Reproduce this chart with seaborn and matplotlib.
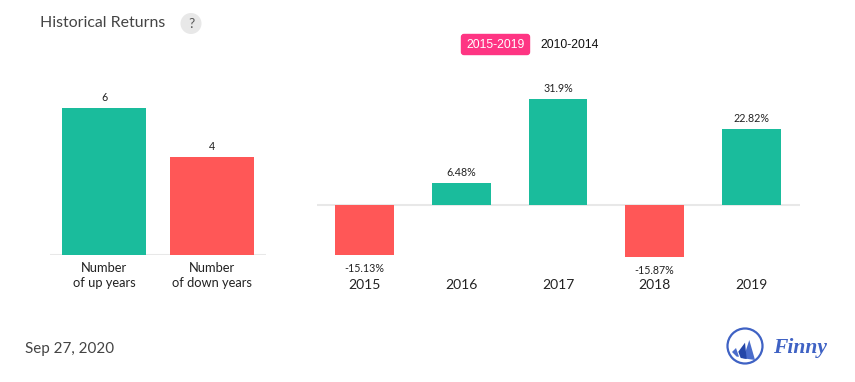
import matplotlib
matplotlib.use('Agg')
import matplotlib.pyplot as plt
from matplotlib.patches import Circle, FancyBboxPatch, Polygon
import pandas as pd
import seaborn as sns

count_labels = ['Number\nof up years', 'Number\nof down years']
count_values = [6, 4]
years = ['2015', '2016', '2017', '2018', '2019']
returns = [-15.13, 6.48, 31.9, -15.87, 22.82]
return_labels = ['-15.13%', '6.48%', '31.9%', '-15.87%', '22.82%']

GREEN = '#1abc9c'
RED = '#ff5757'
W, H = 855, 382

sns.set_theme(style='white')
plt.rcParams['font.family'] = ['Lato', 'DejaVu Sans']

fig = plt.figure(figsize=(W / 100, H / 100), dpi=100)

def make_axes(x0, x1, y_top, y_bot):
    return fig.add_axes([x0 / W, 1 - y_bot / H, (x1 - x0) / W, (y_bot - y_top) / H])

def style_axes(ax):
    sns.despine(ax=ax, left=True, bottom=True, top=True, right=True)
    ax.set_xlabel('')
    ax.set_ylabel('')
    ax.set_yticks([])
    ax.axhline(0, color='#e8e8e8', lw=1.5, zorder=0)
    ax.tick_params(axis='x', length=0, labelsize=10, labelcolor='#222222')
    ax.patch.set_alpha(0)

# left panel, up and down counts
ax1 = make_axes(50, 266, 60, 255)
df1 = pd.DataFrame({'label': count_labels, 'value': count_values})
sns.barplot(data=df1, x='label', y='value', hue='label', palette=[GREEN, RED],
            width=0.78, saturation=1, legend=False, linewidth=0, ax=ax1, zorder=2)
ax1.set_ylim(0, 195 / 24.5)
style_axes(ax1)
ax1.tick_params(axis='x', pad=5, labelsize=9.3)
for lab in ax1.get_xticklabels():
    lab.set_linespacing(1.35)
for i, v in enumerate(count_values):
    ax1.annotate(str(v), (i, v), xytext=(0, 7), textcoords='offset pixels',
                 ha='center', va='baseline', fontsize=7.7, color='#222222')

# right panel, yearly returns
ax2 = make_axes(316.5, 799.5, 60.5, 290.5)
df2 = pd.DataFrame({'year': years, 'ret': returns})
colors = [GREEN if r > 0 else RED for r in returns]
sns.barplot(data=df2, x='year', y='ret', hue='year', palette=colors,
            width=0.61, saturation=1, legend=False, linewidth=0, ax=ax2, zorder=2)
ax2.set_ylim(-86 / 3.32, 144 / 3.32)
style_axes(ax2)
ax2.xaxis.set_tick_params(pad=-8)
for i, r in enumerate(returns):
    off = 7 if r > 0 else -17
    ax2.annotate(return_labels[i], (i, r), xytext=(0, off), textcoords='offset pixels',
                 ha='center', va='baseline', fontsize=7.7, color='#222222')

# overlay in pixels for header, footer and logo
ov = fig.add_axes([0, 0, 1, 1], zorder=5)
ov.set_xlim(0, W)
ov.set_ylim(H, 0)
ov.axis('off')
ov.text(40, 23, 'Historical Returns', fontsize=11.4, color='#444444', va='center')
ov.add_patch(Circle((191, 23.5), 10.5, color='#e8e8e8', lw=0))
ov.text(191, 23.5, '?', fontsize=10, color='#555555', ha='center', va='center')
ov.add_patch(FancyBboxPatch((461.5, 34.5), 68, 20, boxstyle='round,pad=0,rounding_size=2.5',
                            fc='#fe3583', ec='#fe3583', lw=1))
ov.text(496, 45, '2015-2019', fontsize=8.8, color='white', ha='center', va='center',
        family=['Liberation Sans'])
ov.text(570, 45, '2010-2014', fontsize=8.8, color='#111111', ha='center', va='center',
        family=['Liberation Sans'])
ov.text(25, 349, 'Sep 27, 2020', fontsize=10.9, color='#444444', va='center')

ov.add_patch(Circle((745, 346), 17.5, fc='white', ec='#3f62c4', lw=1.6))
ov.add_patch(Polygon([(749.3, 340), (755, 360), (743.3, 358.3)], fc='#4a6ccb', lw=0))
ov.add_patch(Polygon([(745, 342.7), (738.3, 351.7), (740.7, 358), (746.7, 359)], fc='#2446a8', lw=0))
ov.add_patch(Polygon([(736, 348), (732, 352), (736.7, 356.7), (739, 356.7)], fc='#4a6ccb', lw=0))
ov.text(773, 348, 'Finny', fontsize=15.5, color='#3f62c4', va='center', style='italic',
        weight='bold', family=['Liberation Serif'])

fig.savefig('out.png', dpi=100)
